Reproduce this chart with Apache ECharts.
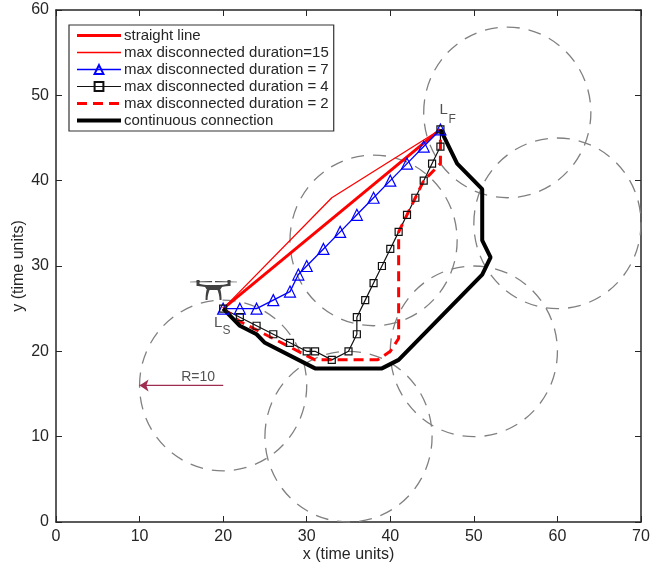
<!DOCTYPE html>
<html><head><meta charset="utf-8">
<style>html,body{margin:0;padding:0;background:#fff}#c{width:662px;height:565px}</style>
<script src="https://cdn.jsdelivr.net/npm/echarts@6/dist/echarts.min.js"></script>
</head><body><div id="c"></div>
<script>
var circleCenters = [[20,16],[35,10],[50,20],[60,35],[54,48],[38,33]];
var circleRadius = 10;
var straightLine = [[20,25],[46,46]];
var maxDisc15 = [[20,25],[33,38],[46,46]];
var maxDisc7 = [[20,25],[22,25],[24,25],[26,26],[28,27],[29,29],[30,30],[32,32],[34,34],[36,36],[38,38],[40,40],[42,42],[44,44],[46,46]];
var maxDisc4 = [[20,25],[22,24],[24,23],[26,22],[28,21],[30,20],[31,20],[33,19],[35,20],[36,22],[36,24],[37,26],[38,28],[39,30],[40,32],[41,34],[42,36],[43,38],[44,40],[45,42],[46,44],[46,46]];
var maxDisc2 = [[20,25],[22,23.5],[24,22.5],[26,21.5],[28,20.5],[31,19],[38.5,19],[40,20],[41,21.5],[41,34],[42,36],[43,38],[44,40],[46,42],[46,46]];
var continuous = [[20,25],[22,23],[24,22],[25,21],[31,18],[39,18],[41,19],[51,29],[52,31],[51,33],[51,39],[48,42],[46,46]];
var radiusArrow = [[20,16],[10,16]];
var font = '"Liberation Sans", Arial, sans-serif';
var tc = '#262626';
var drone = 'path://M0 1.8 L22 1.2 L22 2.4 L0 2.4 Z M25 1.2 L47 1.8 L47 2.4 L25 2.4 Z M6.5 0 L9.5 0 L9.5 6 L6.5 6 Z M37.5 0 L40.5 0 L40.5 6 L37.5 6 Z M8 3.5 Q15 5 18 5 L29 5 Q33 5 39 3.5 L39 6 Q33 6.5 32 7 L30 10 L17 10 L15 7 Q12 6.5 8 6 Z M17 9 L20 9 C18.5 12 17.5 16 17.5 20 L15.5 20 C15.5 15 16 11 17 9 Z M27 9 L30 9 C31 11 31.5 15 31.5 20 L29.5 20 C29.5 16 28.5 12 27 9 Z';
function axis(pos, name, show){
  return {type:'value',position:pos,min:0,max:pos==='bottom'||pos==='top'?70:60,interval:10,
    name:show?name:'',nameLocation:'middle',nameMoveOverlap:false,nameGap:show?(pos==='bottom'?25:29):0,
    nameTextStyle:{fontFamily:font,fontSize:16,color:tc},
    axisLine:{show:true,onZero:false,lineStyle:{color:'#262626',width:1.5}},
    axisTick:{show:true,inside:true,length:6,lineStyle:{color:'#262626',width:1}},
    axisLabel:{show:show,fontFamily:font,fontSize:16,color:tc,margin:7,showMinLabel:true,showMaxLabel:true},
    splitLine:{show:false}};
}
function line(name,data,color,width,extra){
  return Object.assign({name:name,type:'line',data:data,showSymbol:false,symbol:'none',silent:true,z:5,
    lineStyle:{color:color,width:width},itemStyle:{color:color}},extra||{});
}
var noMark = {color:'rgba(0,0,0,0)',borderWidth:0,opacity:0};
var chart = echarts.init(document.getElementById('c'),null,{renderer:'canvas'});
chart.setOption({
  animation:false,
  grid:{left:56,top:10,right:21,bottom:43,containLabel:false,outerBoundsMode:'none'},
  xAxis:[axis('bottom','x (time units)',true),axis('top','',false)],
  yAxis:[axis('left','y (time units)',true),axis('right','',false)],
  legend:{orient:'vertical',left:69,top:25,padding:[3,5,3,6],itemWidth:44,itemHeight:11,itemGap:2,
    backgroundColor:'#fff',borderColor:'#333',borderWidth:1.2,
    textStyle:{fontFamily:font,fontSize:15,color:tc,padding:[0,0,0,-2]},
    data:[{name:'straight line',itemStyle:noMark,lineStyle:{width:3,color:'#ff0000'}},
      {name:'max disconnected duration=15',itemStyle:noMark,lineStyle:{width:1.3,color:'#ff0000'}},
      {name:'max disconnected duration = 7',lineStyle:{width:1.5,color:'#0000ff'}},
      {name:'max disconnected duration = 4',lineStyle:{width:1.2,color:'#111111'}},
      {name:'max disconnected duration = 2',itemStyle:noMark,lineStyle:{width:3,color:'#ff0000',type:[10,6]}},
      {name:'continuous connection',itemStyle:noMark,lineStyle:{width:4,color:'#000000'}}]},
  series:[
    {type:'custom',name:'circles',data:circleCenters,coordinateSystem:'cartesian2d',silent:true,z:2,
      renderItem:function(p,api){
        var c=api.coord([api.value(0),api.value(1)]);
        var e=api.coord([api.value(0)+circleRadius,api.value(1)+circleRadius]);
        return {type:'ellipse',shape:{cx:c[0],cy:c[1],rx:e[0]-c[0],ry:c[1]-e[1]},
          style:{fill:'none',stroke:'#808080',lineWidth:1.3,lineDash:[13,9]}};
      }},
    line('straight line',straightLine,'#ff0000',3),
    line('max disconnected duration=15',maxDisc15,'#ff0000',1.3),
    line('max disconnected duration = 7',maxDisc7,'#0000ff',1.3,{showSymbol:true,symbol:'triangle',symbolSize:11,
      itemStyle:{color:'rgba(255,255,255,0)',borderColor:'#0000ff',borderWidth:1.2}}),
    line('max disconnected duration = 4',maxDisc4,'#111111',1.2,{showSymbol:true,symbol:'rect',symbolSize:7,
      itemStyle:{color:'rgba(255,255,255,0)',borderColor:'#111111',borderWidth:1.2}}),
    line('max disconnected duration = 2',maxDisc2,'#ff0000',3,{lineStyle:{color:'#ff0000',width:3,type:[10,6]}}),
    line('continuous connection',continuous,'#000000',4),
    {type:'line',name:'radius',data:radiusArrow,symbol:'none',silent:true,z:4,
      lineStyle:{color:'#a02c50',width:1.2},itemStyle:{color:'#a02c50'},
      markLine:{silent:true,symbol:['none','arrow'],symbolSize:9,label:{show:false},animation:false,
        lineStyle:{color:'#a02c50',width:1.2,type:'solid'},data:[[{coord:radiusArrow[0]},{coord:radiusArrow[1]}]]}},
    {type:'scatter',name:'labels',silent:true,z:6,symbolSize:0,data:[
      {value:[17,17],label:{formatter:'R=10',fontSize:14}},
      {value:[19.4,23.3],label:{formatter:'L',fontSize:15}},
      {value:[20.4,22.4],label:{formatter:'S',fontSize:12}},
      {value:[46.4,48.3],label:{formatter:'L',fontSize:15}},
      {value:[47.4,47.2],label:{formatter:'F',fontSize:12}}
    ],label:{show:true,position:'inside',fontFamily:font,color:tc}},
    {type:'scatter',name:'drone',silent:true,z:6,data:[[18.85,27.2]],symbol:drone,symbolSize:[47,20],itemStyle:{color:'#111'}}
  ]
});
</script></body></html>
